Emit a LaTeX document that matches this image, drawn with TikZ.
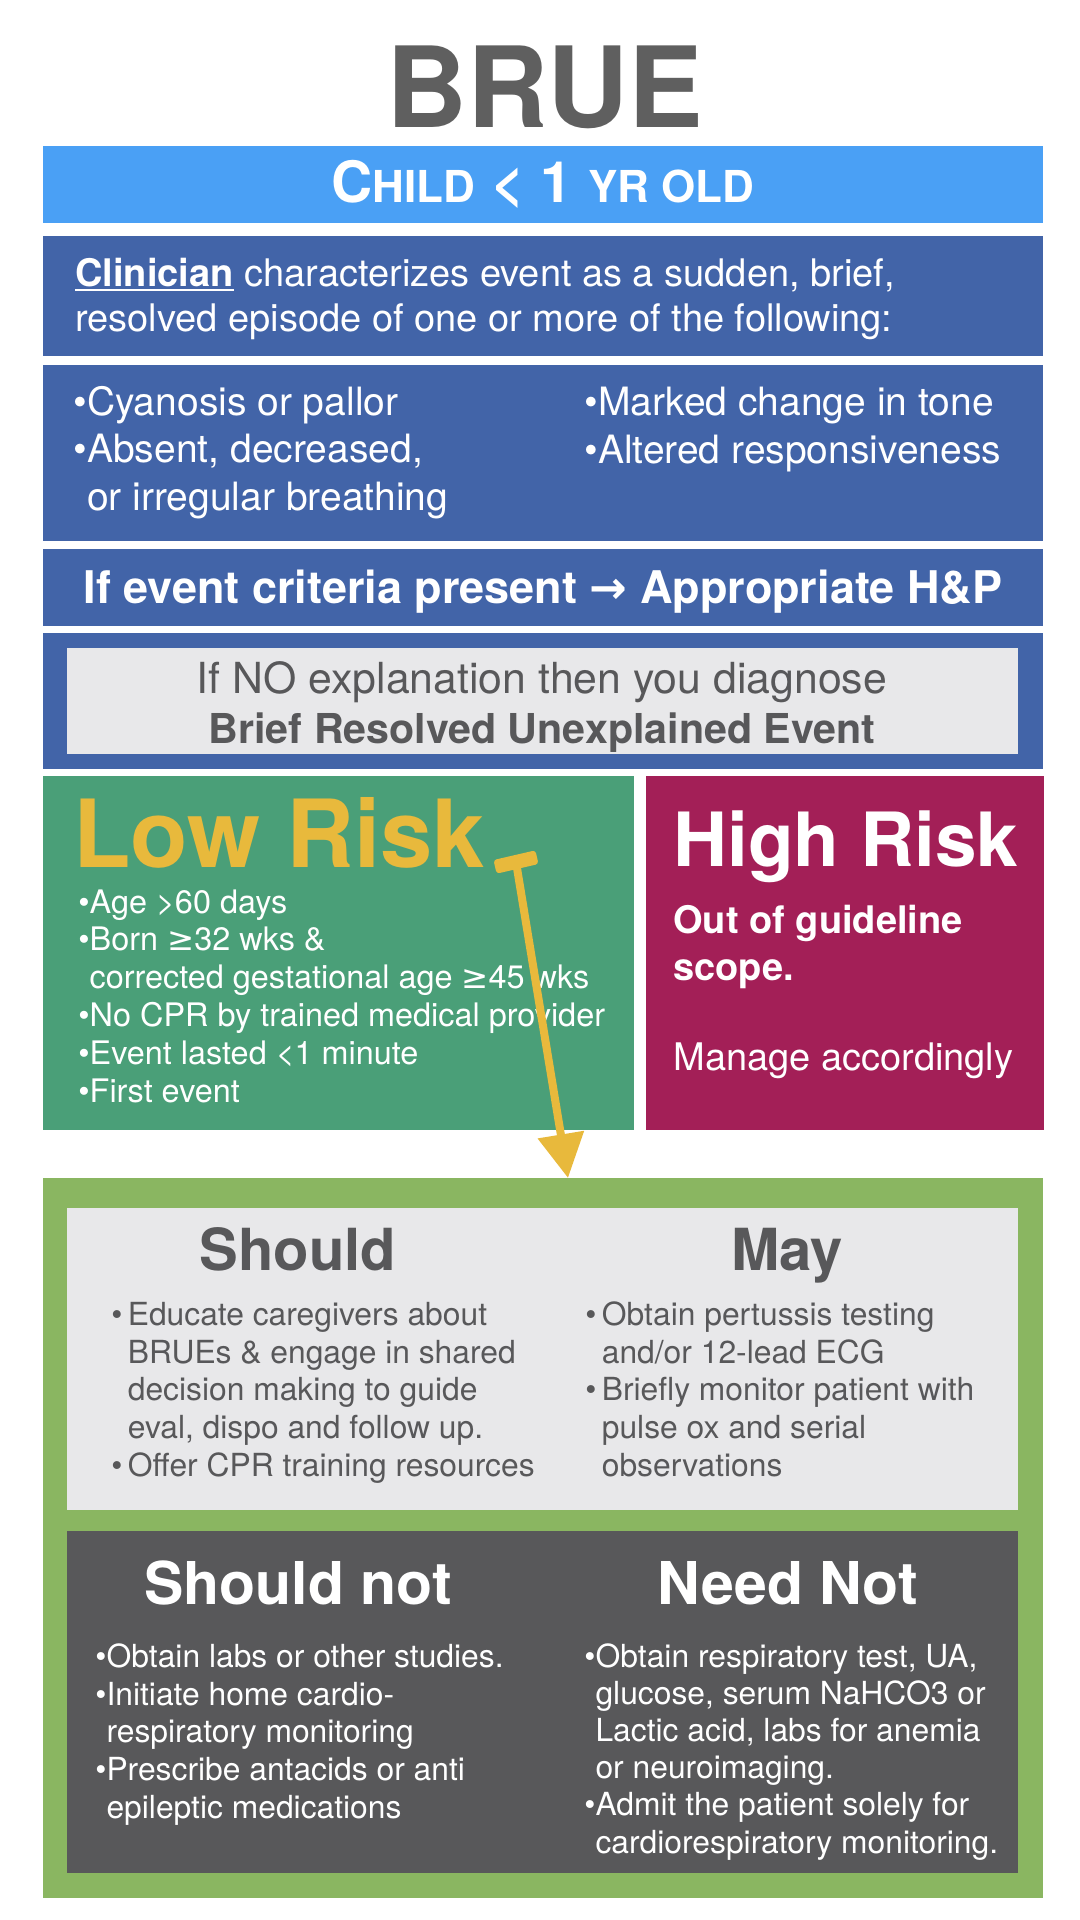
\documentclass[tikz,border=0pt]{standalone}
\usepackage{fontspec}
\setmainfont{TeX Gyre Heros}
\newfontfamily\symf{DejaVu Sans}
\usetikzlibrary{arrows.meta}

\definecolor{skyblue}{HTML}{4AA0F5}
\definecolor{navy}{HTML}{4264A8}
\definecolor{paleg}{HTML}{E8E8EA}
\definecolor{lowgreen}{HTML}{4A9F78}
\definecolor{highwine}{HTML}{A31F57}
\definecolor{mustard}{HTML}{E8B93C}
\definecolor{leaf}{HTML}{8AB661}
\definecolor{slate}{HTML}{58585A}
\definecolor{ink}{HTML}{5F5F5F}

\newsavebox\ulbox
\newcommand\ulword[1]{\sbox\ulbox{#1}\rlap{\rule[-2pt]{\wd\ulbox}{1pt}}\usebox\ulbox}
\newcommand\fsz[2]{\fontsize{#1}{#2}\selectfont}
\newcommand\atleast{{\symf ≥}}
\newcommand\thenarrow{{\symf →}}

\begin{document}
\begin{tikzpicture}[x=0.5pt, y=-0.5pt,
  panel/.style   = {inner sep=0pt, minimum width=500pt},
  inset/.style   = {inner sep=0pt, minimum width=475.5pt},
  txt/.style     = {inner sep=0pt, anchor=base west, align=left, text=white},
  head/.style    = {inner sep=0pt, anchor=base},
  sign/.style    = {font=\fsz{19.5}{23.75}},
  item/.style    = {font=\fsz{16.2}{18.9}},
  grayitem/.style = {font=\fsz{15.9}{18.8}},
  tailbar/.style = {fill=mustard, inner sep=0pt, minimum width=21.5pt,
                    minimum height=7pt, rounded corners=1.5pt},
  pointer/.style = {draw=mustard, line width=4pt,
                    -{Triangle[width=22.5pt,length=22pt]}},
]
  \path[use as bounding box, fill=white] (0,0) rectangle (1080,1920);

  \node[head, text=ink, font=\fsz{56}{62}\bfseries] (brue) at (545,128) {BRUE};

  % header bands
  \node[panel, fill=skyblue, minimum height=38.5pt, text=white, font=\bfseries]
    (age) at (543,184.5) {\fsz{28.5}{34}C{\fsz{22}{26}HILD} < 1 {\fsz{22}{26}YR OLD}};
  \node[panel, fill=navy, minimum height=60pt] (defbox) at (543,296) {};
  \node[panel, fill=navy, minimum height=88pt] (signbox) at (543,453) {};
  \node[panel, fill=navy, minimum height=38.5pt] (hpbox) at (543,587.5) {};
  \node[panel, fill=navy, minimum height=68pt] (dxbox) at (543,701) {};
  \node[inset, fill=paleg, minimum height=53pt] (dxin) at (542.5,701) {};

  % multi-line texts sit on their last baseline
  \node[txt, font=\fsz{19}{22.5}] (defn) at (75,332)
    {\ulword{\textbf{Clinician}} characterizes event as a sudden, brief,\\
     resolved episode of one or more of the following:};
  \node[txt, sign] (signl) at (73,510)
    {•Cyanosis or pallor\\•Absent, decreased,\\\hphantom{•}or irregular breathing};
  \node[txt, sign] (signr) at (584,463)
    {•Marked change in tone\\•Altered responsiveness};
  \node[head, text=white, font=\fsz{22.5}{28}\bfseries] (hp) at (543,603)
    {If event criteria present \thenarrow\ Appropriate H\&P};
  \node[head, text=slate, align=center, font=\fsz{21.4}{25}] (dx) at (542,743)
    {If NO explanation then you diagnose\\{\fsz{20.6}{25}\bfseries Brief Resolved Unexplained Event}};

  % risk split
  \node[panel, fill=lowgreen, minimum width=295.5pt, minimum height=177pt] (low) at (338.5,953) {};
  \node[panel, fill=highwine, minimum width=199pt, minimum height=177pt] (high) at (845,953) {};

  \node[txt, text=mustard, font=\fsz{47}{52}\bfseries] (lowhead) at (73,867) {Low Risk};
  \node[txt, item] (lowlist) at (78,1102)
    {•Age >60 days\\•Born \atleast32 wks \&\\
     \hphantom{•}corrected gestational age \atleast45 wks\\
     •No CPR by trained medical provider\\•Event lasted <1 minute\\•First event};
  \node[txt, font=\fsz{37.4}{44}\bfseries] (highhead) at (673,866) {High Risk};
  \node[txt, font=\fsz{19}{23.5}\bfseries] (scope) at (673,980) {Out of guideline\\scope.};
  \node[txt, font=\fsz{19}{23.5}] (manage) at (673,1070) {Manage accordingly};

  % management
  \node[panel, fill=leaf, minimum height=360pt] (mgmt) at (543,1538) {};
  \node[inset, fill=paleg, minimum height=151pt] (dobox) at (542.5,1359) {};
  \node[inset, fill=slate, minimum height=171pt] (dontbox) at (542.5,1702) {};

  \node[head, text=slate, font=\fsz{29}{34}\bfseries] (should) at (298,1270) {Should};
  \node[head, text=slate, font=\fsz{29}{34}\bfseries] (may) at (787,1270) {May};
  \node[txt, grayitem, text=slate] (shouldlist) at (111,1476)
    {•\,Educate caregivers about\\\hphantom{•\,}BRUEs \& engage in shared\\
     \hphantom{•\,}decision making to guide\\\hphantom{•\,}eval, dispo and follow up.\\
     •\,Offer CPR training resources};
  \node[txt, grayitem, text=slate] (maylist) at (585,1476)
    {•\,Obtain pertussis testing\\\hphantom{•\,}and/or 12-lead ECG\\
     •\,Briefly monitor patient with\\\hphantom{•\,}pulse ox and serial\\
     \hphantom{•\,}observations};

  \node[head, text=white, font=\fsz{29.5}{34}\bfseries] (shouldnot) at (298,1604) {Should not};
  \node[head, text=white, font=\fsz{29.5}{34}\bfseries] (neednot) at (788,1604) {Need Not};
  \node[txt, grayitem] (shouldnotlist) at (95,1818)
    {•Obtain labs or other studies.\\•Initiate home cardio-\\
     \hphantom{•}respiratory monitoring\\•Prescribe antacids or anti\\
     \hphantom{•}epileptic medications};
  \node[txt, grayitem, font=\fsz{15.9}{18.6}] (neednotlist) at (584,1853)
    {•Obtain respiratory test, UA,\\\hphantom{•}glucose, serum NaHCO3 or\\
     \hphantom{•}Lactic acid, labs for anemia\\\hphantom{•}or neuroimaging.\\
     •Admit the patient solely for\\\hphantom{•}cardiorespiratory monitoring.};

  % low risk -> management
  \node[tailbar, rotate=13] (tail) at (516,862) {};
  \coordinate (tip) at (568,1178);
  \draw[pointer] (tail.center) -- (tip);
\end{tikzpicture}
\end{document}
